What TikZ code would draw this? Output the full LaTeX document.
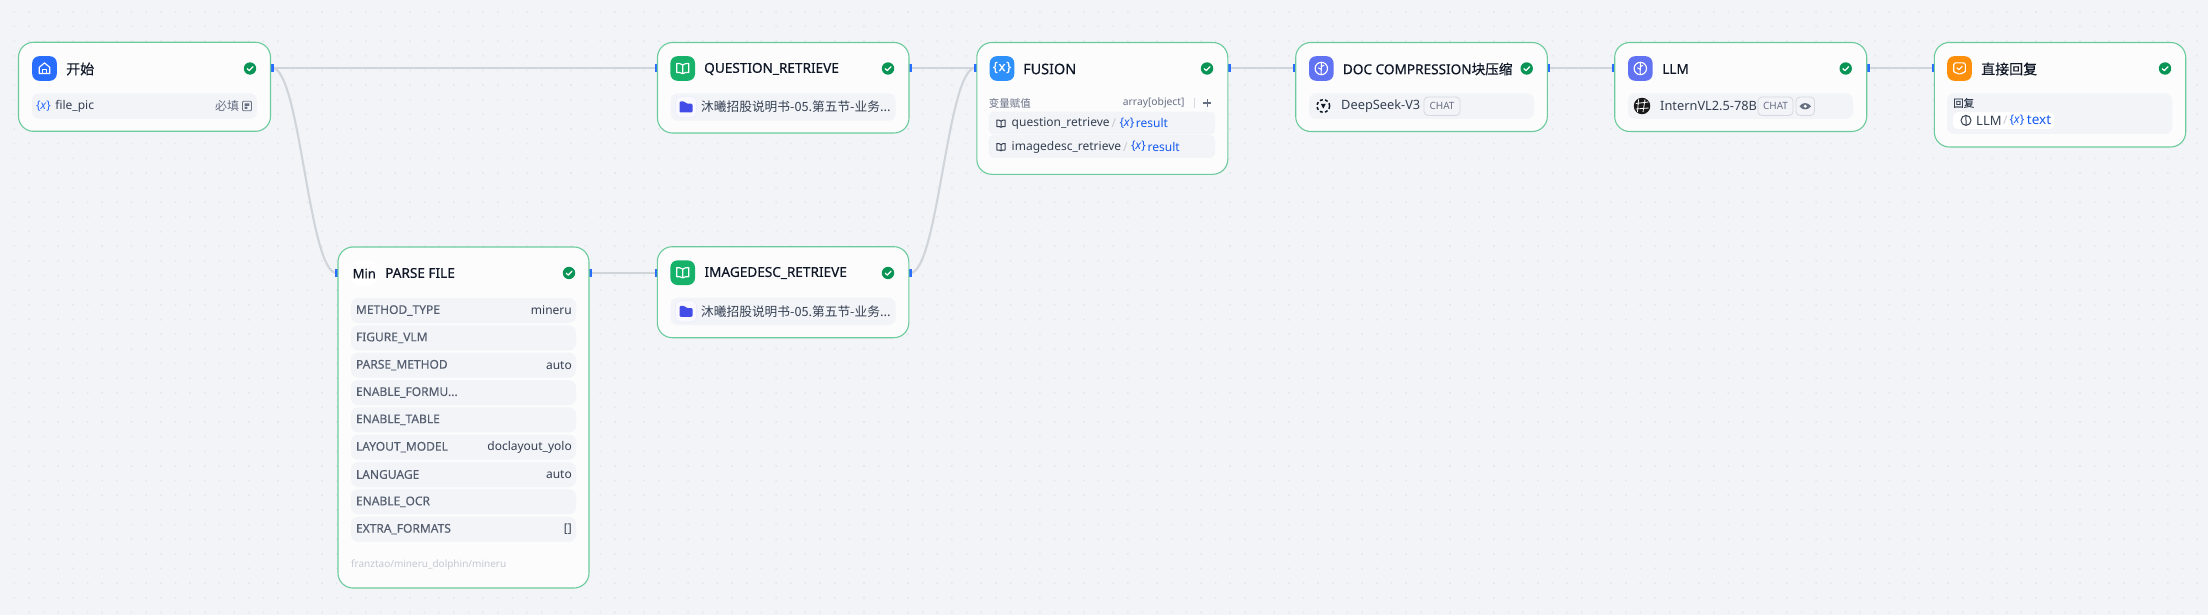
\documentclass[tikz,border=0pt]{standalone}
\usepackage{fontspec}
\setmainfont{Noto Sans}
\newfontfamily\cjk{Noto Sans CJK SC}
\newfontfamily\tlat{Noto Sans}[FakeBold=0.6]
\newfontfamily\tcjk{Noto Sans CJK SC}[FakeBold=0.6]
\newfontfamily\mlat{Noto Sans}[FakeBold=0.35]
\definecolor{bgc}{HTML}{F2F4F7}
\definecolor{dotc}{HTML}{E4E7EC}
\definecolor{edgec}{HTML}{D0D5DC}
\definecolor{cardline}{HTML}{6CCB9C}
\definecolor{cardfill}{HTML}{FCFCFD}
\definecolor{rowc}{HTML}{F2F4F7}
\definecolor{hblue}{HTML}{296DFF}
\definecolor{okc}{HTML}{079455}
\definecolor{titlec}{HTML}{101828}
\definecolor{textc}{HTML}{354052}
\definecolor{labelc}{HTML}{565F70}
\definecolor{mutec}{HTML}{676F83}
\definecolor{bluec}{HTML}{155AEF}
\definecolor{faintc}{HTML}{C4C8D0}
\definecolor{chipline}{HTML}{D5D8DE}
\definecolor{fold}{HTML}{444CE7}
\definecolor{bookg}{HTML}{17B26A}
\definecolor{varb}{HTML}{2E90FA}
\definecolor{llmi}{HTML}{6172F3}
\definecolor{replyo}{HTML}{FD8F0A}
\tikzset{
  x=1pt,y=-1pt,
  card/.style={draw=cardline,line width=1.1pt,fill=cardfill,rounded corners=15pt,inner sep=0,outer sep=0,anchor=north west},
  rowbox/.style={fill=rowc,rounded corners=7pt,inner sep=0,outer sep=0,anchor=north west},
  iconbg/.style={minimum width=24.6pt,minimum height=24.6pt,rounded corners=7pt,inner sep=0,outer sep=0},
  hand/.style={fill=hblue,minimum width=2.6pt,minimum height=8pt,inner sep=0,outer sep=0},
  link/.style={draw=edgec,line width=2.1pt},
  okdot/.style={circle,fill=okc,minimum size=12.4pt,inner sep=0},
  ttl/.style={anchor=west,inner sep=0,text=titlec,font=\tlat\fontsize{13.6}{16}\selectfont},
  lbl/.style={anchor=west,inner sep=0,text=textc,font=\fontsize{12}{14}\selectfont},
  prm/.style={anchor=west,inner sep=0,text=labelc,font=\mlat\fontsize{12}{14}\selectfont},
  val/.style={anchor=east,inner sep=0,text=textc,font=\fontsize{12}{14}\selectfont},
  chip/.style={draw=chipline,line width=.8pt,rounded corners=4pt,inner sep=0,outer sep=0,anchor=north west},
  ico/.style={draw=white,line width=1.15pt,line join=round,line cap=round},
  sic/.style={draw=textc,line width=1pt,line join=round,line cap=round},
}
\newcommand{\okmark}[3]{\node[okdot] (#1) at (#2,#3) {};
  \draw[white,line width=1.25pt,line cap=round,line join=round] (#2-2.8,#3+.2) -- (#2-.7,#3+2.1) -- (#2+2.9,#3-1.8);}
\newcommand{\bookicon}[2]{\node[iconbg,fill=bookg] (#1) at (#2) {};
  \begin{scope}[shift={(#2)}]
  \draw[ico] (0,-3.6) .. controls (-1.8,-5) and (-4,-5.2) .. (-6,-5) -- (-6,4) .. controls (-4,3.8) and (-1.8,4) .. (0,5.2) .. controls (1.8,4) and (4,3.8) .. (6,4) -- (6,-5) .. controls (4,-5.2) and (1.8,-5) .. (0,-3.6) -- cycle (0,-3.6) -- (0,5.2);
  \end{scope}}
\newcommand{\brainicon}[2]{\node[iconbg,fill=llmi] (#1) at (#2) {};
  \begin{scope}[shift={(#2)}]
  \draw[ico] (0,0) circle (6.2);
  \draw[ico,line width=1pt] (0,-6) .. controls (-1.6,-3) and (1.4,-1) .. (0,1) .. controls (-.8,2.5) and (.4,4) .. (0,6) (0,-1.8) -- (2.6,-3.2) (0,1) -- (-2.8,-.6);
  \end{scope}}
\newcommand{\foldicon}[2]{\node[draw=white!90!fold,fill=white!96!fold,line width=.7pt,rounded corners=5pt,minimum width=21pt,minimum height=21.5pt,inner sep=0] (#1) at (#2) {};
  \begin{scope}[shift={(#2)}]
  \fill[fold,rounded corners=1.2pt] (-6.5,-5.5) -- (-1.5,-5.5) -- (.5,-3.4) -- (6.5,-3.4) -- (6.5,5.5) -- (-6.5,5.5) -- cycle;
  \end{scope}}
\newcommand{\smallbook}[1]{\begin{scope}[shift={(#1)}]
  \draw[sic] (0,-2.4) .. controls (-1,-3.4) and (-2.6,-3.6) .. (-4.2,-3.4) -- (-4.2,3) .. controls (-2.6,2.8) and (-1,3) .. (0,3.8) .. controls (1,3) and (2.6,2.8) .. (4.2,3) -- (4.2,-3.4) .. controls (2.6,-3.6) and (1,-3.4) .. (0,-2.4) -- cycle (0,-2.4) -- (0,3.8);
  \end{scope}}
\newcommand{\xvar}{\{\kern-.3pt\textit{x}\kern-.3pt\}}
\newcommand{\formu}{ENABLE\_FORMU...}
\newcommand{\kbtxt}{\cjk 沐曦招股说明书-05.第五节-业务...}
\begin{document}
\begin{tikzpicture}
\useasboundingbox (0,0) rectangle (2208,615);
\fill[bgc] (0,0) rectangle (2208,615);
\fill[dotc] foreach \i in {0,...,150}{foreach \j in {0,...,41}{
  ({14.3+14.65*\i-.8},{11.8+14.65*\j-.8}) rectangle +(1.6,1.6)}};

% handles
\node[hand] (startR) at (272.2,68) {};
\node[hand] (qL) at (656,68) {};
\node[hand] (qR) at (910.4,68) {};
\node[hand] (fL) at (975.2,68) {};
\node[hand] (fR) at (1229.2,68) {};
\node[hand] (dL) at (1294.2,68) {};
\node[hand] (dR) at (1548.8,68) {};
\node[hand] (lL) at (1613.2,68) {};
\node[hand] (lR) at (1868.2,68) {};
\node[hand] (rL) at (1932.8,68) {};
\node[hand] (pL) at (336.6,273) {};
\node[hand] (pR) at (590.6,273) {};
\node[hand] (iL) at (655.8,273) {};
\node[hand] (iR) at (910.2,273) {};
% connectors
\draw[link] (startR.center) -- (qL.center);
\draw[link] (startR.center) .. controls +(28,0) and +(-28,0) .. (pL.center);
\draw[link] (pR.center) -- (iL.center);
\draw[link] (qR.center) -- (fL.center);
\draw[link] (iR.center) .. controls +(28,0) and +(-28,0) .. (fL.center);
\draw[link] (fR.center) -- (dL.center);
\draw[link] (dR.center) -- (lL.center);
\draw[link] (lR.center) -- (rL.center);
\foreach \h in {startR,qL,qR,fL,fR,dL,dR,lL,lR,rL,pL,pR,iL,iR}{\fill[hblue] (\h.north west) rectangle (\h.south east);}

% START
\node[card,minimum width=252pt,minimum height=89pt] (start) at (18.5,42.3) {};
\node[iconbg,fill=hblue] (startI) at (44.5,68.5) {};
\begin{scope}[shift={(44.5,68.5)}]
\draw[ico] (-5.2,-1.2) -- (0,-5.6) -- (5.2,-1.2) -- (5.2,5) -- (-5.2,5) -- cycle;
\draw[ico] (-2,5) -- (-2,1) -- (2,1) -- (2,5);
\end{scope}
\node[ttl,font=\tcjk\fontsize{14}{16}\selectfont] (startT) at (66,69) {开始};
\okmark{startK}{250}{68.5}
\node[rowbox,minimum width=225pt,minimum height=25.5pt] (startRow) at (32,93.3) {};
\node[lbl,text=hblue] (startX) at (36,106) {\xvar};
\node[lbl] (startV) at (55.2,106) {file\_pic};
\node[lbl,text=mutec,font=\cjk\fontsize{12}{14}\selectfont] (startReq) at (215,106) {必填};
\node[draw=mutec,line width=.9pt,rounded corners=1pt,minimum width=9pt,minimum height=9.5pt,inner sep=0] (startD) at (247,106) {};
\fill[mutec] (244.6,103.4) rectangle (249.4,105.8) (244.6,106.6) rectangle (247.4,108.8);

% PARSE FILE
\node[card,minimum width=251pt,minimum height=341pt] (parse) at (338,247) {};
\node[fill=white,rounded corners=6pt,minimum width=25pt,minimum height=25pt,inner sep=0] (parseI) at (364,273) {};
\node[anchor=west,inner sep=0,font=\mlat\fontsize{13}{15}\selectfont,text=titlec] (parseM) at (352.5,273.5) {Min};
\node[ttl] (parseT) at (385,273) {PARSE FILE};
\okmark{parseK}{569}{273}
\foreach \n/\y/\k/\v in {0/310.5/METHOD\_TYPE/mineru,1/337.8/FIGURE\_VLM/,2/365.2/PARSE\_METHOD/auto,3/392.5/\formu/,4/419.8/ENABLE\_TABLE/,5/447.2/LAYOUT\_MODEL/doclayout\_yolo,6/474.5/LANGUAGE/auto,7/501.8/ENABLE\_OCR/,8/529.2/EXTRA\_FORMATS/[]}{
  \node[rowbox,minimum width=225pt,minimum height=25pt] (pr\n) at (351,\y-12.5) {};
  \node[prm] (pk\n) at (355.8,\y) {\k};
  \node[val] (pv\n) at (572,\y) {\v};
}
\node[anchor=west,inner sep=0,text=faintc,font=\fontsize{10}{12}\selectfont] (parseF) at (351,565) {franztao/mineru\_dolphin/mineru};

% QUESTION_RETRIEVE
\node[card,minimum width=251.5pt,minimum height=90.5pt] (q) at (657.5,42.5) {};
\bookicon{qI}{682.7,68.5}
\node[ttl] (qT) at (704,69) {QUESTION\_RETRIEVE};
\okmark{qK}{888}{68.5}
\node[rowbox,minimum width=225pt,minimum height=27.4pt] (qRow) at (670.5,93.3) {};
\foldicon{qF}{686,107}
\node[lbl,font=\fontsize{12.7}{14}\selectfont] (qV) at (701,107) {\kbtxt};

% IMAGEDESC_RETRIEVE
\node[card,minimum width=251.5pt,minimum height=91pt] (im) at (657.3,246.7) {};
\bookicon{iI}{682.7,272.7}
\node[ttl] (iT) at (704.3,273) {IMAGEDESC\_RETRIEVE};
\okmark{iK}{888}{273}
\node[rowbox,minimum width=225pt,minimum height=27.4pt] (iRow) at (670.5,297.7) {};
\foldicon{iF}{686,311.4}
\node[lbl,font=\fontsize{12.7}{14}\selectfont] (iV) at (701,311.4) {\kbtxt};

% FUSION
\node[card,minimum width=251pt,minimum height=131.8pt] (f) at (976.8,42.5) {};
\node[iconbg,fill=varb] (fI) at (1002,68.5) {};
\node[inner sep=0,text=white,font=\mlat\fontsize{13}{15}\selectfont] (fIx) at (1002,67.5) {\{\kern.8pt x\kern.8pt\}};
\node[ttl,font=\tlat\fontsize{14.4}{16}\selectfont] (fT) at (1023,69) {FUSION};
\okmark{fK}{1207}{68.5}
\node[lbl,text=mutec,font=\cjk\fontsize{10.5}{12}\selectfont] (fL1) at (988.6,103) {变量赋值};
\node[val,text=mutec,font=\fontsize{10.3}{12}\selectfont] (fArr) at (1184.7,103) {array[object]};
\draw[chipline,line width=.7pt] (1194,98) -- (1194,108);
\draw[mutec,line width=1.1pt] (1203.2,103) -- (1211,103) (1207.1,99) -- (1207.1,107);
\node[rowbox,rounded corners=5pt,minimum width=226.5pt,minimum height=22.8pt] (fR1) at (988.6,111.6) {};
\node[rowbox,rounded corners=5pt,minimum width=226.5pt,minimum height=22.8pt] (fR2) at (988.6,135) {};
\smallbook{1001,123.5}
\node[lbl] (fQ) at (1011.5,123.5) {question\_retrieve};
\node[lbl,text=faintc] (fQs) at (1111.5,123.5) {/};
\node[lbl,text=bluec] (fQx) at (1119.5,123) {\xvar};
\node[lbl,text=bluec] (fQr) at (1135.7,123.5) {result};
\smallbook{1001,147}
\node[lbl] (fI2) at (1011.5,147) {imagedesc\_retrieve};
\node[lbl,text=faintc] (fIs) at (1123,147) {/};
\node[lbl,text=bluec] (fIx2) at (1131,146.5) {\xvar};
\node[lbl,text=bluec] (fIr) at (1147.5,147) {result};

% DOC COMPRESSION
\node[card,minimum width=251.6pt,minimum height=89pt] (d) at (1295.7,42.5) {};
\brainicon{dI}{1321.3,68.5}
\node[ttl] (dT) at (1342.7,69) {DOC COMPRESSION\tcjk 块压缩};
\okmark{dK}{1526.7}{68.5}
\node[rowbox,minimum width=225pt,minimum height=25.6pt] (dRow) at (1309,93.4) {};
\draw[titlec,line width=1.5pt,dash pattern=on 3pt off 2.2pt] (1323.3,106) circle (6.3);
\fill[titlec] (1320.8,103.8) -- (1325.8,103.8) -- (1323.3,108.6) -- cycle;
\node[lbl,font=\fontsize{12.8}{14}\selectfont] (dV) at (1341,106) {DeepSeek-V3};
\node[chip,minimum width=36pt,minimum height=18.5pt] (dC) at (1424,97) {};
\node[inner sep=0,text=mutec,font=\fontsize{10}{12}\selectfont] (dCt) at (dC) {CHAT};

% LLM
\node[card,minimum width=252pt,minimum height=89pt] (l) at (1614.7,42.5) {};
\brainicon{lI}{1640.3,68.5}
\node[ttl] (lT) at (1662,69) {LLM};
\okmark{lK}{1845.7}{68.5}
\node[rowbox,minimum width=225pt,minimum height=25.6pt] (lRow) at (1628,93.4) {};
\node[circle,fill=black!90,minimum size=16.5pt,inner sep=0] (lM) at (1642,106) {};
\draw[white,line width=.8pt] (1638.5,99.5) -- (1637.5,112) (1645,99.5) -- (1643,112) (1635.8,103.5) -- (1648.5,102) (1635.8,109) -- (1648.5,108);
\node[lbl,font=\fontsize{12.8}{14}\selectfont] (lV) at (1660,106) {InternVL2.5-78B};
\node[chip,minimum width=35pt,minimum height=18.5pt] (lC) at (1758,97) {};
\node[inner sep=0,text=mutec,font=\fontsize{10}{12}\selectfont] (lCt) at (lC) {CHAT};
\node[chip,minimum width=18.5pt,minimum height=18.5pt] (lE) at (1796,97) {};
\fill[mutec] (1799.5,106.3) .. controls (1802,102) and (1808,102) .. (1811,106.3) .. controls (1808,110.5) and (1802,110.5) .. (1799.5,106.3) -- cycle;
\fill[white] (1805.2,106.3) circle (1.6);

% REPLY
\node[card,minimum width=251.4pt,minimum height=104.5pt] (r) at (1934.3,42.5) {};
\node[iconbg,fill=replyo] (rI) at (1959.5,68.5) {};
\begin{scope}[shift={(1959.5,68.5)}]
\draw[ico,rounded corners=1.5pt] (-5.8,-5.6) -- (5.8,-5.6) -- (5.8,4.2) -- (2.2,4.2) -- (0,6.4) -- (-2.2,4.2) -- (-5.8,4.2) -- cycle;
\draw[ico] (-2.6,-.6) -- (-.6,1.2) -- (2.8,-2.2);
\end{scope}
\node[ttl,font=\tcjk\fontsize{14}{16}\selectfont] (rT) at (1981,69) {直接回复};
\okmark{rK}{2165}{68.5}
\node[rowbox,minimum width=225pt,minimum height=40.7pt] (rRow) at (1947,93.3) {};
\node[lbl,font=\tcjk\fontsize{10.5}{12}\selectfont] (rL1) at (1953,103) {回复};
\node[fill=white,rounded corners=5pt,anchor=north west,minimum width=101.5pt,minimum height=16.8pt,inner sep=0] (rChip) at (1952.7,112) {};
\draw[sic,line width=1pt] (1966,120.4) circle (5);
\draw[sic,line width=1pt] (1966,115.8) .. controls (1964.8,118) and (1967,119.5) .. (1966,121) -- (1966,125);
\node[lbl,font=\fontsize{13}{14}\selectfont] (rV) at (1976,120.5) {LLM};
\node[lbl,text=faintc] (rS) at (2003,120.5) {/};
\node[lbl,text=bluec] (rX) at (2009.5,120) {\xvar};
\node[lbl,text=bluec,font=\fontsize{13.5}{14}\selectfont] (rT2) at (2026.7,120.5) {text};
\end{tikzpicture}
\end{document}
